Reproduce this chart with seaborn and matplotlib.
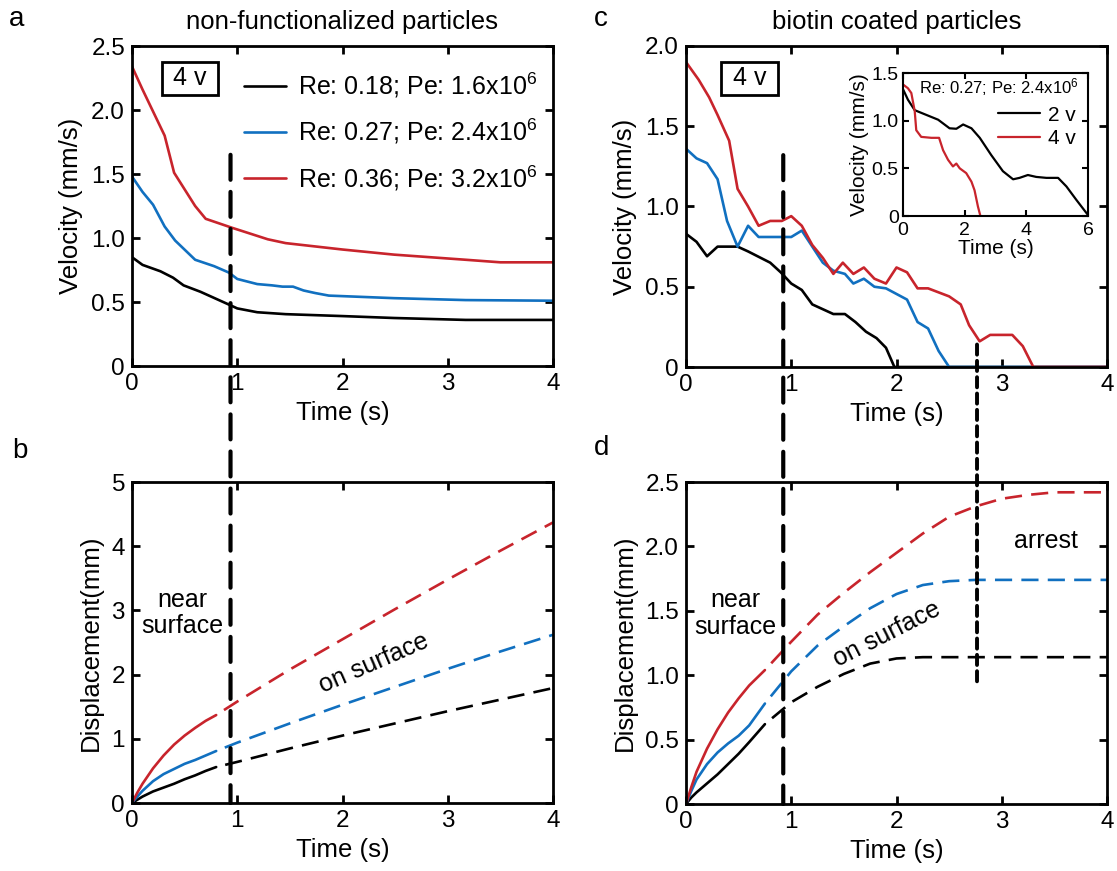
import matplotlib
matplotlib.use("Agg")
import matplotlib.pyplot as plt
from matplotlib.patches import ConnectionPatch
import seaborn as sns

# ---------------- data ----------------
# (a) velocity, non-functionalized particles
a_red_t = [0, 0.1, 0.31, 0.4, 0.6, 0.7, 0.95, 1.29, 1.46, 2.0, 2.49, 3.17, 3.5, 4.0]
a_red_v = [2.34, 2.16, 1.80, 1.51, 1.25, 1.15, 1.08, 0.99, 0.96, 0.91, 0.87, 0.83, 0.81, 0.81]
a_blue_t = [0, 0.1, 0.2, 0.31, 0.41, 0.6, 0.78, 0.92, 1.0, 1.19, 1.33, 1.43, 1.53, 1.63,
            1.74, 1.87, 2.49, 3.17, 4.0]
a_blue_v = [1.48, 1.36, 1.26, 1.09, 0.98, 0.83, 0.78, 0.73, 0.68, 0.64, 0.63, 0.62, 0.62,
            0.59, 0.57, 0.55, 0.53, 0.515, 0.51]
a_black_t = [0, 0.1, 0.27, 0.39, 0.49, 0.65, 0.92, 1.0, 1.19, 1.46, 2.0, 2.49, 3.17, 4.0]
a_black_v = [0.85, 0.79, 0.74, 0.69, 0.63, 0.58, 0.48, 0.45, 0.42, 0.405, 0.39, 0.375, 0.36, 0.36]

# (c) velocity, biotin coated particles
c_red_t = [0, 0.12, 0.22, 0.3, 0.41, 0.49, 0.59, 0.69, 0.8, 0.91, 1.0, 1.1, 1.2, 1.3, 1.4,
           1.49, 1.59, 1.69, 1.79, 1.9, 2.0, 2.1, 2.2, 2.3, 2.5, 2.61, 2.69, 2.79, 2.89,
           3.1, 3.2, 3.3, 4.0]
c_red_v = [1.90, 1.79, 1.68, 1.57, 1.41, 1.11, 1.0, 0.88, 0.91, 0.91, 0.94, 0.88, 0.76, 0.68,
           0.58, 0.65, 0.58, 0.62, 0.55, 0.52, 0.62, 0.59, 0.49, 0.49, 0.44, 0.39, 0.26, 0.16,
           0.20, 0.20, 0.13, 0.0, 0.0]
c_blue_t = [0, 0.1, 0.2, 0.3, 0.39, 0.49, 0.59, 0.69, 1.0, 1.1, 1.2, 1.3, 1.4, 1.51, 1.59,
            1.69, 1.79, 1.9, 2.1, 2.2, 2.3, 2.4, 2.5, 4.0]
c_blue_v = [1.36, 1.30, 1.27, 1.17, 0.91, 0.75, 0.88, 0.81, 0.81, 0.85, 0.75, 0.65, 0.60, 0.58,
            0.52, 0.55, 0.50, 0.49, 0.42, 0.28, 0.24, 0.10, 0.0, 0.0]
c_black_t = [0, 0.1, 0.2, 0.3, 0.49, 0.59, 0.8, 0.9, 1.0, 1.1, 1.2, 1.3, 1.4, 1.51, 1.61,
             1.71, 1.81, 1.9, 1.98, 4.0]
c_black_v = [0.83, 0.78, 0.69, 0.75, 0.75, 0.72, 0.65, 0.59, 0.52, 0.48, 0.39, 0.36, 0.33, 0.33,
             0.28, 0.22, 0.18, 0.12, 0.0, 0.0]

# (c inset) Re 0.27 at two voltages
ins_2v_t = [0, 0.16, 0.38, 0.76, 1.14, 1.51, 1.73, 1.95, 2.22, 2.49, 2.86, 3.24, 3.57, 3.78,
            4.05, 4.32, 4.65, 5.03, 5.3, 5.62, 6.0]
ins_2v_v = [1.33, 1.22, 1.11, 1.06, 1.01, 0.92, 0.915, 0.96, 0.92, 0.82, 0.64, 0.47, 0.385, 0.40,
            0.43, 0.41, 0.40, 0.40, 0.31, 0.17, 0.01]
ins_4v_t = [0, 0.16, 0.27, 0.38, 0.43, 0.59, 0.92, 1.17, 1.3, 1.46, 1.62, 1.73, 1.84, 2.05,
            2.22, 2.32, 2.43, 2.51]
ins_4v_v = [1.38, 1.34, 1.29, 1.10, 0.90, 0.83, 0.82, 0.82, 0.69, 0.59, 0.52, 0.55, 0.50, 0.45,
            0.36, 0.27, 0.10, 0.0]

# (b) displacement, non-functionalized: near surface (solid) / on surface (dashed)
b_near_t = [0, 0.05, 0.1, 0.2, 0.3, 0.4, 0.5, 0.6, 0.7, 0.8]
b_near_red = [0, 0.16, 0.30, 0.54, 0.74, 0.91, 1.05, 1.17, 1.28, 1.37]
b_near_blue = [0, 0.10, 0.19, 0.34, 0.45, 0.53, 0.61, 0.67, 0.74, 0.81]
b_near_black = [0, 0.05, 0.10, 0.18, 0.24, 0.30, 0.37, 0.43, 0.50, 0.56]
b_on_t = [0.8, 1.0, 1.5, 2.0, 2.5, 3.0, 3.5, 4.0]
b_on_red = [1.37, 1.58, 2.08, 2.55, 3.02, 3.48, 3.93, 4.37]
b_on_blue = [0.81, 0.94, 1.24, 1.53, 1.81, 2.09, 2.36, 2.62]
b_on_black = [0.56, 0.64, 0.85, 1.05, 1.24, 1.43, 1.61, 1.79]

# (d) displacement, biotin coated
d_near_t = [0, 0.05, 0.1, 0.2, 0.3, 0.4, 0.5, 0.6, 0.75]
d_near_red = [0, 0.13, 0.25, 0.43, 0.58, 0.71, 0.82, 0.92, 1.04]
d_near_blue = [0, 0.10, 0.19, 0.31, 0.40, 0.47, 0.53, 0.61, 0.78]
d_near_black = [0, 0.05, 0.09, 0.16, 0.23, 0.31, 0.39, 0.48, 0.62]
d_on_t = [0.75, 1.0, 1.25, 1.5, 1.75, 2.0, 2.25, 2.5, 2.75, 3.0, 3.25, 3.5, 4.0]
d_on_red = [1.04, 1.26, 1.47, 1.64, 1.80, 1.95, 2.10, 2.23, 2.31, 2.37, 2.40, 2.42, 2.42]
d_on_blue = [0.78, 1.03, 1.23, 1.38, 1.52, 1.63, 1.70, 1.73, 1.74, 1.74, 1.74, 1.74, 1.74]
d_on_black = [0.62, 0.79, 0.91, 1.01, 1.09, 1.13, 1.14, 1.14, 1.14, 1.14, 1.14, 1.14, 1.14]

legend_labels = ["Re: 0.18; Pe: 1.6x10$^6$",
                 "Re: 0.27; Pe: 2.4x10$^6$",
                 "Re: 0.36; Pe: 3.2x10$^6$"]

# ---------------- style ----------------
sns.set_theme(style="ticks")
plt.rcParams.update({
    "font.family": ["Liberation Sans", "DejaVu Sans"],
    "mathtext.fontset": "custom",
    "mathtext.rm": "Liberation Sans",
    "mathtext.it": "Liberation Sans:italic",
    "mathtext.default": "regular",
    "axes.edgecolor": "black",
    "text.color": "black",
    "axes.labelcolor": "black",
    "xtick.color": "black",
    "ytick.color": "black",
})

BLACK = "#000000"
BLUE = "#1170c0"
RED = "#c8242c"
LW = 1.9
# dashed segments begin with a gap so they separate from the solid part
DASH = (6.5, (6.5, 3.5))
FS = 17.5

fig = plt.figure(figsize=(11.17, 8.71), dpi=100)
W, H = 1117, 871


def px_axes(x0, y0, x1, y1):
    return fig.add_axes([x0 / W, 1 - y1 / H, (x1 - x0) / W, (y1 - y0) / H])


ax_a = px_axes(132, 46, 553, 366)
ax_c = px_axes(686, 46, 1107, 367)
ax_b = px_axes(132, 482, 553, 803)
ax_d = px_axes(686, 482, 1107, 804)
ax_in = px_axes(903, 73, 1088, 216)


def style(ax, ylim, yticks, yticklabels, xlim=(0, 4), xticks=(0, 1, 2, 3, 4),
          fs=FS, spine=2.0, tl=5.5):
    ax.set_xlim(*xlim)
    ax.set_ylim(*ylim)
    ax.set_xticks(list(xticks))
    ax.set_xticklabels([str(t) for t in xticks])
    ax.set_yticks(yticks)
    ax.set_yticklabels(yticklabels)
    ax.tick_params(direction="in", length=tl, width=spine, top=True, right=True,
                   labelsize=fs, pad=5)
    for s in ax.spines.values():
        s.set_linewidth(spine)
        s.set_color("black")
    ax.set_facecolor("white")


def line(ax, x, y, color, dashed=False, lw=LW, label=None):
    kw = dict(linestyle=DASH) if dashed else {}
    sns.lineplot(x=x, y=y, ax=ax, color=color, lw=lw, estimator=None, sort=False,
                 label=label, legend=False, **kw)


# ---------------- (a) ----------------
line(ax_a, a_black_t, a_black_v, BLACK, label=legend_labels[0])
line(ax_a, a_blue_t, a_blue_v, BLUE, label=legend_labels[1])
line(ax_a, a_red_t, a_red_v, RED, label=legend_labels[2])
style(ax_a, (0, 2.5), [0, 0.5, 1.0, 1.5, 2.0, 2.5], ["0", "0.5", "1.0", "1.5", "2.0", "2.5"])
ax_a.set_xlabel("Time (s)", fontsize=18.5, labelpad=4)
ax_a.set_ylabel("Velocity (mm/s)", fontsize=18.5, labelpad=6)
ax_a.set_title("non-functionalized particles", fontsize=18.5, pad=12)
ax_a.legend(loc="upper right", bbox_to_anchor=(0.985, 0.955), frameon=False, fontsize=18,
            handlelength=1.7, handletextpad=0.45, labelspacing=0.68, borderaxespad=0)
ax_a.text(0.138, 0.90, " 4 v ", transform=ax_a.transAxes, ha="center", va="center",
          fontsize=18, bbox=dict(boxstyle="square,pad=0.18", fc="white", ec="black", lw=2))

# ---------------- (c) ----------------
line(ax_c, c_black_t, c_black_v, BLACK)
line(ax_c, c_blue_t, c_blue_v, BLUE)
line(ax_c, c_red_t, c_red_v, RED)
style(ax_c, (0, 2.0), [0, 0.5, 1.0, 1.5, 2.0], ["0", "0.5", "1.0", "1.5", "2.0"])
ax_c.set_xlabel("Time (s)", fontsize=18.5, labelpad=4)
ax_c.set_ylabel("Velocity (mm/s)", fontsize=18.5, labelpad=6)
ax_c.set_title("biotin coated particles", fontsize=18.5, pad=12)
ax_c.text(0.151, 0.90, " 4 v ", transform=ax_c.transAxes, ha="center", va="center",
          fontsize=18, bbox=dict(boxstyle="square,pad=0.18", fc="white", ec="black", lw=2))

# inset
line(ax_in, ins_2v_t, ins_2v_v, BLACK, lw=1.6, label="2 v")
line(ax_in, ins_4v_t, ins_4v_v, RED, lw=1.6, label="4 v")
style(ax_in, (0, 1.5), [0, 0.5, 1.0, 1.5], ["0", "0.5", "1.0", "1.5"], xlim=(0, 6),
      xticks=(0, 2, 4, 6), fs=14, spine=1.5, tl=4)
ax_in.tick_params(axis="y", pad=3)
ax_in.tick_params(axis="x", pad=4)
ax_in.set_xlabel("Time (s)", fontsize=15, labelpad=0)
ax_in.set_ylabel("Velocity (mm/s)", fontsize=15, labelpad=2)
ax_in.text(0.52, 0.90, "Re: 0.27; Pe: 2.4x10$^6$", transform=ax_in.transAxes,
           ha="center", va="center", fontsize=12)
ax_in.legend(loc="upper right", bbox_to_anchor=(0.98, 0.83), frameon=False, fontsize=15,
             handlelength=2.0, handletextpad=0.4, labelspacing=0.2, borderaxespad=0)

# ---------------- (b) ----------------
line(ax_b, b_near_t, b_near_black, BLACK)
line(ax_b, b_near_t, b_near_blue, BLUE)
line(ax_b, b_near_t, b_near_red, RED)
line(ax_b, b_on_t, b_on_black, BLACK, dashed=True)
line(ax_b, b_on_t, b_on_blue, BLUE, dashed=True)
line(ax_b, b_on_t, b_on_red, RED, dashed=True)
style(ax_b, (0, 5), [0, 1, 2, 3, 4, 5], ["0", "1", "2", "3", "4", "5"])
ax_b.set_xlabel("Time (s)", fontsize=18.5, labelpad=4)
ax_b.set_ylabel("Displacement(mm)", fontsize=18.5, labelpad=6)
ax_b.text(0.475, 2.96, "near\nsurface", ha="center", va="center", fontsize=18,
          linespacing=1.15)
ax_b.text(2.30, 2.18, "on surface", ha="center", va="center", fontsize=18, rotation=23.5)

# ---------------- (d) ----------------
line(ax_d, d_near_t, d_near_black, BLACK)
line(ax_d, d_near_t, d_near_blue, BLUE)
line(ax_d, d_near_t, d_near_red, RED)
line(ax_d, d_on_t, d_on_black, BLACK, dashed=True)
line(ax_d, d_on_t, d_on_blue, BLUE, dashed=True)
line(ax_d, d_on_t, d_on_red, RED, dashed=True)
style(ax_d, (0, 2.5), [0, 0.5, 1.0, 1.5, 2.0, 2.5], ["0", "0.5", "1.0", "1.5", "2.0", "2.5"])
ax_d.set_xlabel("Time (s)", fontsize=18.5, labelpad=4)
ax_d.set_ylabel("Displacement(mm)", fontsize=18.5, labelpad=6)
ax_d.text(0.466, 1.48, "near\nsurface", ha="center", va="center", fontsize=18,
          linespacing=1.15)
ax_d.text(1.91, 1.32, "on surface", ha="center", va="center", fontsize=18, rotation=27)
ax_d.text(3.42, 2.04, "arrest", ha="center", va="center", fontsize=18)

# ---------------- regime boundaries spanning both rows ----------------
def boundary(ax_top, ax_bot, t, y_top, y_bot, dashes, lw):
    cp = ConnectionPatch(xyA=(t, y_top), coordsA=ax_top.transData,
                         xyB=(t, y_bot), coordsB=ax_bot.transData,
                         arrowstyle="-", shrinkA=0, shrinkB=0, color="black",
                         lw=lw, linestyle=(0, dashes), zorder=5)
    fig.add_artist(cp)


boundary(ax_a, ax_b, 0.936, 1.65, 0.0, (6.0, 2.9), 3.0)
boundary(ax_c, ax_d, 0.924, 1.32, 0.0, (6.0, 2.9), 3.0)
boundary(ax_c, ax_d, 2.765, 0.14, 0.92, (2.6, 1.6), 2.8)

# panel letters
for letter, x, y in [("a", 9, 26), ("b", 12, 458), ("c", 594, 26), ("d", 594, 455)]:
    fig.text(x / W, 1 - y / H, letter, fontsize=20, ha="left", va="baseline")

fig.savefig("out.png", dpi=100, facecolor="white")
